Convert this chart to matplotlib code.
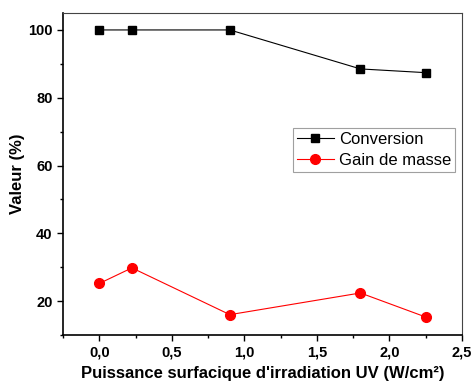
import matplotlib
matplotlib.use('Agg')
import matplotlib.pyplot as plt
from matplotlib.ticker import MultipleLocator, FuncFormatter

plt.rcParams['font.family'] = 'Liberation Sans'

puissance = [0.0, 0.225, 0.9, 1.8, 2.25]
conversion = [100, 100, 100, 88.5, 87.4]
gain_masse = [25.2, 29.8, 16.0, 22.4, 15.3]

fig = plt.figure(figsize=(4.72, 3.85), dpi=100)
ax = fig.add_axes([63/472, 50/385, 399/472, 322/385])

ax.plot(puissance, conversion, color='black', lw=0.8, marker='s', ms=6,
        label='Conversion')
ax.plot(puissance, gain_masse, color='red', lw=0.8, marker='o', ms=7,
        label='Gain de masse')

ax.set_xlim(-0.25, 2.5)
ax.set_ylim(10, 105)
ax.xaxis.set_major_locator(MultipleLocator(0.5))
ax.xaxis.set_minor_locator(MultipleLocator(0.25))
ax.yaxis.set_major_locator(MultipleLocator(20))
ax.yaxis.set_minor_locator(MultipleLocator(10))
ax.xaxis.set_major_formatter(FuncFormatter(lambda v, p: f'{v:.1f}'.replace('.', ',')))
ax.yaxis.set_major_formatter(FuncFormatter(lambda v, p: f'{v:.0f}'))
ax.tick_params(which='major', direction='out', length=4, width=1, labelsize=10.5)
ax.tick_params(which='minor', direction='out', length=2.5, width=1)
for lab in ax.get_xticklabels() + ax.get_yticklabels():
    lab.set_fontweight('bold')
for s in ['left', 'bottom']:
    ax.spines[s].set_linewidth(1.2)
for s in ['top', 'right']:
    ax.spines[s].set_linewidth(0.8)
    ax.spines[s].set_color('#444444')

ax.set_xlabel("Puissance surfacique d'irradiation UV (W/cm²)", fontsize=12,
              fontweight='bold', labelpad=5)
ax.set_ylabel('Valeur (%)', fontsize=12, fontweight='bold', labelpad=2)

leg = ax.legend(loc='upper left', bbox_to_anchor=(0.576, 0.643), fontsize=12,
                frameon=True, fancybox=False, edgecolor='#888888',
                borderpad=0.25, handlelength=2.2, handletextpad=0.3,
                labelspacing=0.35, borderaxespad=0)
leg.get_frame().set_linewidth(0.8)

fig.savefig('out.png', dpi=100)
